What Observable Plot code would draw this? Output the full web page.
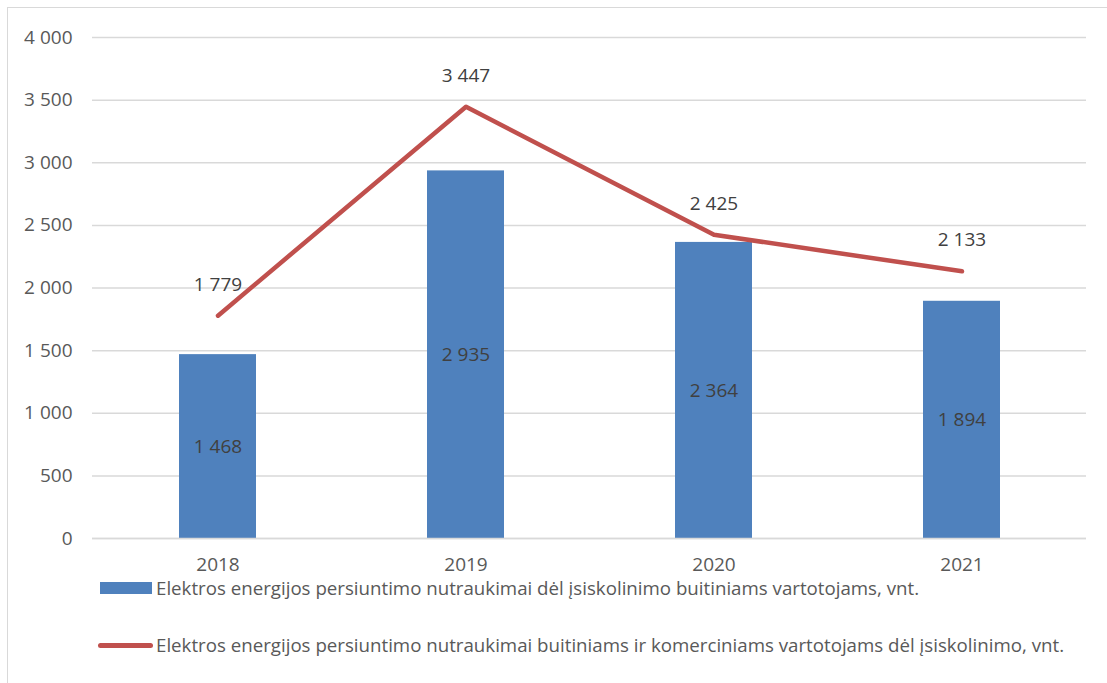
<!DOCTYPE html>
<html><head><meta charset="utf-8">
<script src="https://cdn.jsdelivr.net/npm/d3@7"></script>
<script src="https://cdn.jsdelivr.net/npm/@observablehq/plot@0.6"></script>
<style>
body{margin:0;background:#fff;font-family:"Open Sans",sans-serif;}
#wrap{position:relative;width:1107px;height:683px;overflow:hidden;}
#frame{position:absolute;left:7px;top:7px;width:1120px;height:700px;border-left:1px solid #d9d9d9;border-top:1px solid #d9d9d9;}
#chart{position:absolute;left:0;top:0;}
.leg{position:absolute;font-size:18.7px;line-height:20px;color:#595959;white-space:nowrap;display:flex;align-items:center;}
.sw{display:inline-block;margin-right:4px;}
</style></head><body>
<div id="wrap"><div id="frame"></div><div id="chart"></div>
<div class="leg" style="left:100px;top:578px;"><span class="sw" style="width:52px;height:12px;background:#4F81BD;"></span>Elektros energijos persiuntimo nutraukimai dėl įsiskolinimo buitiniams vartotojams, vnt.</div>
<div class="leg" style="left:98px;top:635px;"><span class="sw" style="width:55px;height:5px;border-radius:3px;background:#C0504D;margin-right:3px;"></span>Elektros energijos persiuntimo nutraukimai buitiniams ir komerciniams vartotojams dėl įsiskolinimo, vnt.</div>
</div>
<script>
const years = ["2018","2019","2020","2021"];
const householdValues = [1468, 2935, 2364, 1894];
const totalValues = [1779, 3447, 2425, 2133];
const yTicks = [0,500,1000,1500,2000,2500,3000,3500,4000];

const fmt = d => d3.format(",")(d).replace(/,/g, " ");
const bars = years.map((y,i)=>({year:y, value:householdValues[i]}));
const line = years.map((y,i)=>({year:y, value:totalValues[i]}));

const FS = 19;
const plot = Plot.plot({
  width:1107, height:578,
  marginLeft:92, marginRight:21, marginTop:37, marginBottom:40,
  style:{fontFamily:"'Open Sans', sans-serif", fontSize:FS+"px", color:"#595959", background:"transparent"},
  x:{domain:years, paddingInner:0.69, paddingOuter:0.345, label:null},
  y:{domain:[0,4000], label:null},
  marks:[
    Plot.gridY(yTicks,{stroke:"#d9d9d9", strokeOpacity:1, strokeWidth:1.5}),
    Plot.axisY(yTicks,{tickSize:0, tickPadding:20, tickFormat:fmt, fill:"#595959", fontSize:FS, label:null}),
    Plot.axisX({tickSize:0, tickPadding:19, fill:"#595959", fontSize:FS, label:null}),
    Plot.barY(bars,{x:"year", y:"value", fill:"#4F81BD"}),
    Plot.ruleY([0],{stroke:"#d9d9d9", strokeWidth:1.5}),
    Plot.text(bars,{x:"year", y:d=>d.value/2, text:d=>fmt(d.value), fill:"#404040", fontSize:FS}),
    Plot.line(line,{x:"year", y:"value", stroke:"#C0504D", strokeWidth:4.5, strokeLinecap:"round", strokeLinejoin:"round"}),
    Plot.text(line,{x:"year", y:"value", dy:-31, text:d=>fmt(d.value), fill:"#404040", fontSize:FS})
  ]
});
document.getElementById("chart").append(plot);
</script>
</body></html>
